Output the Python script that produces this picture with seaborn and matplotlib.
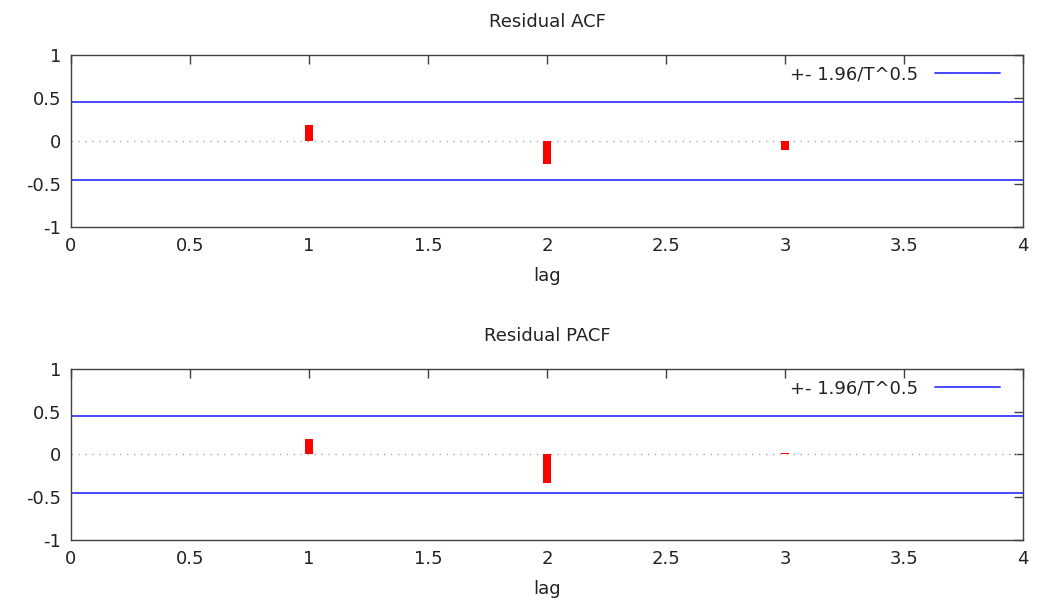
import numpy as np
import pandas as pd
import matplotlib
matplotlib.use("Agg")
import matplotlib.pyplot as plt
import seaborn as sns

# values
lags = [1, 2, 3]
acf_vals = [0.19, -0.27, -0.10]
pacf_vals = [0.18, -0.33, 0.015]
n_obs = 19
bound = 1.96 / n_obs ** 0.5

xticks = [0, 0.5, 1, 1.5, 2, 2.5, 3, 3.5, 4]
xticklabels = ['0', '0.5', '1', '1.5', '2', '2.5', '3', '3.5', '4']
yticks = [-1, -0.5, 0, 0.5, 1]
yticklabels = ['-1', '-0.5', '0', '0.5', '1']

sns.set_style('white')
plt.rcParams['font.family'] = ['DejaVu Sans']
plt.rcParams['axes.unicode_minus'] = False

txt = '#222222'
fs = 13
fig = plt.figure(figsize=(10.39, 6.03), dpi=100)
ax1 = fig.add_axes([0.0683, 0.6235, 0.9163, 0.2853])
ax2 = fig.add_axes([0.0683, 0.1045, 0.9163, 0.2836])


def panel(ax, vals, title):
  df = pd.DataFrame({'lag': lags, 'val': vals})
  ax.axhline(0, color='#aaaaaa', lw=1, ls=(0, (1, 4)), zorder=1)
  ax.axhline(bound, color='#3a3aff', lw=1.3, label='+- 1.96/T^0.5', zorder=2)
  ax.axhline(-bound, color='#3a3aff', lw=1.3, zorder=2)
  sns.barplot(data=df, x='lag', y='val', native_scale=True, width=0.035,
              color='red', saturation=1, edgecolor='none', ax=ax, zorder=3)
  ax.set_xlim(0, 4)
  ax.set_ylim(-1, 1)
  ax.set_xticks(xticks)
  ax.set_xticklabels(xticklabels)
  ax.set_yticks(yticks)
  ax.set_yticklabels(yticklabels)
  ax.tick_params(direction='in', length=6.5, width=1, color='#404040',
                 top=True, right=True, labelsize=fs, labelcolor=txt, pad=7)
  for s in ax.spines.values():
    s.set_visible(True)
    s.set_color('#404040')
    s.set_linewidth(1)
  ax.set_ylabel('')
  ax.set_xlabel('lag', fontsize=fs, color=txt, labelpad=9)
  ax.set_title(title, fontsize=fs, color=txt, pad=20)
  leg = ax.legend(loc='upper right', bbox_to_anchor=(1.0, 1.075),
                  frameon=False, fontsize=fs,
                  handlelength=3.6, handletextpad=0.9, markerfirst=False,
                  borderaxespad=1.1, borderpad=0.2)
  for t in leg.get_texts():
    t.set_color(txt)


panel(ax1, acf_vals, 'Residual ACF')
panel(ax2, pacf_vals, 'Residual PACF')

fig.savefig('out.png', dpi=100)
